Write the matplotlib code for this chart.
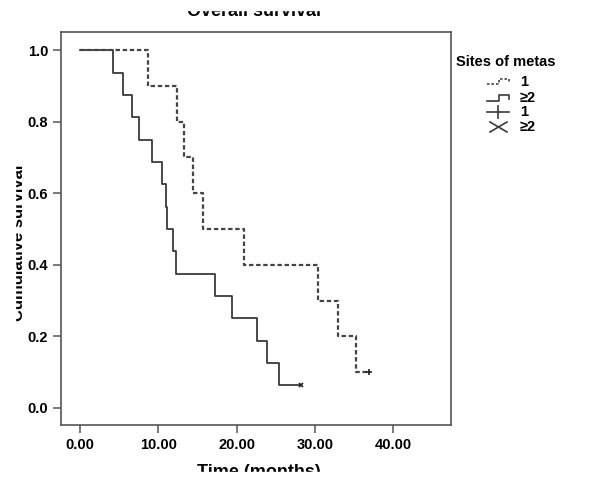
"""Overall survival Kaplan-Meier plot by sites of metastasis"""

import matplotlib
matplotlib.use('Agg')
import matplotlib.pyplot as plt
from matplotlib.lines import Line2D
from matplotlib.patches import Rectangle

plt.rcParams['font.family'] = ['Liberation Sans', 'DejaVu Sans']
plt.rcParams['font.weight'] = 'bold'

# group "1" (dashed): event times and survival after each step
times_one = [0.0, 8.64, 12.35, 13.28, 14.47, 15.67, 20.94, 30.43, 32.90, 35.25]
surv_one = [1.0, 0.9, 0.8, 0.7, 0.6, 0.5, 0.4, 0.3, 0.2, 0.1]
censor_one = [36.95]

# group ">=2" (solid)
times_two = [0.0, 4.26, 5.45, 6.64, 7.49, 9.24, 10.43, 10.98, 11.15, 11.92,
             12.26, 17.24, 19.46, 22.65, 23.93, 25.45]
surv_two = [1.0, 0.9375, 0.875, 0.8125, 0.75, 0.6875, 0.625, 0.5625, 0.5,
            0.4375, 0.375, 0.3125, 0.25, 0.1875, 0.125, 0.0625]
censor_two = [28.19]

x_ticks = [0, 10, 20, 30, 40]
x_tick_labels = ['0.00', '10.00', '20.00', '30.00', '40.00']
y_ticks = [0.0, 0.2, 0.4, 0.6, 0.8, 1.0]
y_tick_labels = ['0.0', '0.2', '0.4', '0.6', '0.8', '1.0']

legend_title = 'Sites of metas'
legend_labels = ['1', '≥2', '1', '≥2']

fig = plt.figure(figsize=(6.02, 4.86), dpi=100)
ax = fig.add_axes([0.1008, 0.1255, 0.6485, 0.808])

axis_col = '#555555'
line_col = '#3a3a3a'

# curves
ax.step(times_one + censor_one, surv_one + [surv_one[-1]], where='post',
        color='#444444', lw=1.6, linestyle=(0, (2.0, 1.2)), zorder=3)
ax.step(times_two + censor_two, surv_two + [surv_two[-1]], where='post',
        color=line_col, lw=1.3, zorder=2)
ax.plot(censor_one, [surv_one[-1]], marker='+', color='#222222', ms=5, mew=1.2,
        ls='none', zorder=4)
ax.plot(censor_two, [surv_two[-1]], marker='x', color='#222222', ms=3, mew=1.2,
        ls='none', zorder=4)

ax.set_xlim(-2.46, 47.4)
ax.set_ylim(-0.048, 1.05)
ax.set_xticks(x_ticks)
ax.set_xticklabels(x_tick_labels)
ax.set_yticks(y_ticks)
ax.set_yticklabels(y_tick_labels)
ax.tick_params(direction='out', length=6, width=1.1, color=axis_col,
               labelsize=10.5, pad=3)
for lab in ax.get_xticklabels() + ax.get_yticklabels():
    lab.set_fontweight('bold')
for sp in ax.spines.values():
    sp.set_color(axis_col)
    sp.set_linewidth(1.2)

# title and axis labels, clipped by the image edges like the source
fig.text(0.422, 1 - 11 / 486, 'Overall survival', ha='center', va='center',
         fontsize=13, fontweight='bold')
fig.text(19 / 602, 0.50, 'Cumulative survival', ha='center', va='center',
         rotation=90, fontsize=12, fontweight='bold')
fig.text(0.43, 1 - 472 / 486, 'Time (months)', ha='center', va='center',
         fontsize=13, fontweight='bold')
fig.patches.append(Rectangle((0, 1 - 10 / 486), 1, 0.03,
                             transform=fig.transFigure, color='white', zorder=10))
fig.patches.append(Rectangle((0, 0), 1, 14 / 486, transform=fig.transFigure,
                             color='white', zorder=10))
fig.patches.append(Rectangle((0, 0), 15 / 602, 1, transform=fig.transFigure,
                             color='white', zorder=10))

# legend drawn by hand to mimic SPSS symbols
W, H = 602.0, 486.0
fig.text(456 / W, 1 - 62 / H, legend_title, ha='left', va='center',
         fontsize=10.5, fontweight='bold')
row_y = [82, 98, 112, 127]
fx = lambda px: px / W
fy = lambda py: 1 - py / H
# dashed step
fig.lines.append(Line2D([fx(487), fx(499), fx(499), fx(509), fx(509)],
                        [fy(row_y[0] + 2), fy(row_y[0] + 2), fy(row_y[0] - 3),
                         fy(row_y[0] - 3), fy(row_y[0])],
                        transform=fig.transFigure, color='#444444', lw=1.2,
                        linestyle=(0, (1.5, 1.2))))
# solid step
fig.lines.append(Line2D([fx(487), fx(499), fx(499), fx(509), fx(509)],
                        [fy(row_y[1] + 3), fy(row_y[1] + 3), fy(row_y[1] - 3),
                         fy(row_y[1] - 3), fy(row_y[1] + 1)],
                        transform=fig.transFigure, color=line_col, lw=1.2))
# plus and cross
fig.lines.append(Line2D([fx(487), fx(509)], [fy(row_y[2]), fy(row_y[2])],
                        transform=fig.transFigure, color=line_col, lw=1.2))
fig.lines.append(Line2D([fx(498), fx(498)], [fy(row_y[2] - 6), fy(row_y[2] + 6)],
                        transform=fig.transFigure, color=line_col, lw=1.2))
fig.lines.append(Line2D([fx(490), fx(507)], [fy(row_y[3] - 5), fy(row_y[3] + 5)],
                        transform=fig.transFigure, color=line_col, lw=1.2))
fig.lines.append(Line2D([fx(490), fx(507)], [fy(row_y[3] + 5), fy(row_y[3] - 5)],
                        transform=fig.transFigure, color=line_col, lw=1.2))
for y, lab in zip(row_y, legend_labels):
    fig.text(fx(520), fy(y), lab, ha='left', va='center', fontsize=10.5,
             fontweight='bold')

fig.savefig('out.png', dpi=100)
